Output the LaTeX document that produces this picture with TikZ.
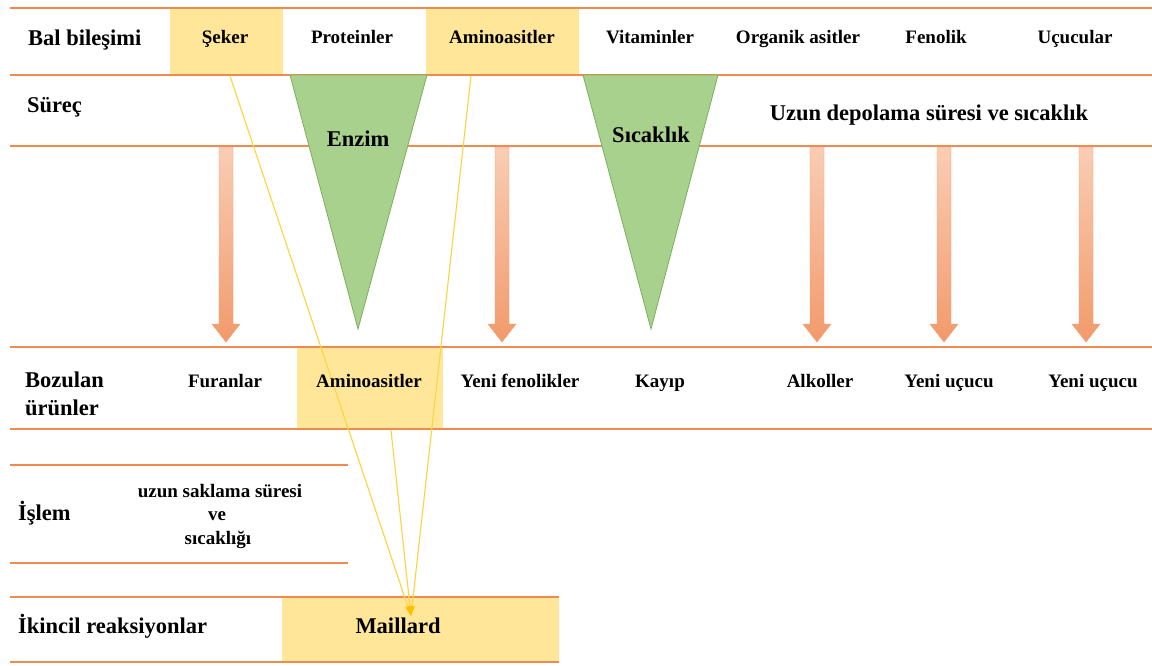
\documentclass[tikz,border=0pt]{standalone}
\usepackage{fontspec}
\setmainfont{Liberation Serif}
\usetikzlibrary{arrows.meta}
\definecolor{lineor}{HTML}{F08B50}
\definecolor{ylw}{HTML}{FFE699}
\definecolor{grn}{HTML}{A9D18E}
\definecolor{grnd}{HTML}{7DAF5A}
\definecolor{ylwline}{HTML}{FFD33D}
\definecolor{ytip}{HTML}{FFC000}
\definecolor{arrtop}{HTML}{F9CDB4}
\definecolor{arrbot}{HTML}{F29A6B}
\begin{document}
\begin{tikzpicture}[x=1pt,y=-1pt,
  hline/.style={draw=lineor,line width=2.8pt},
  ybox/.style={fill=ylw,draw=none,inner sep=0pt},
  head/.style={font=\fontsize{22.5}{26}\selectfont\bfseries,inner sep=0pt,anchor=base west},
  item/.style={font=\fontsize{19}{22}\selectfont\bfseries,inner sep=0pt,anchor=base},
  big/.style={font=\fontsize{22.5}{26}\selectfont\bfseries,inner sep=0pt,anchor=base},
  tri/.style={fill=grn,draw=grnd,line width=0.8pt},
  darr/.style={top color=arrtop,bottom color=arrbot,draw=arrbot,line width=0.4pt},
  yline/.style={draw=ylwline,line width=1.1pt,-{Triangle[length=10pt,width=5pt,color=ytip]}}]
\useasboundingbox (0,0) rectangle (1152,665);
\fill[white] (0,0) rectangle (1152,665);

% yellow boxes
\node[ybox,minimum width=113pt,minimum height=67pt] (sekerbox) at (226.5,41.5) {};
\node[ybox,minimum width=153pt,minimum height=67pt] (aminobox) at (502.5,41.5) {};
\node[ybox,minimum width=146pt,minimum height=82pt] (amino2box) at (370,388) {};
\node[ybox,minimum width=277pt,minimum height=65pt] (maillardbox) at (420.5,629.5) {};

% orange rules
\draw[hline] (10,8) -- (1152,8);
\draw[hline] (10,75) -- (1152,75);
\draw[hline] (10,146) -- (1152,146);
\draw[hline] (10,347) -- (1152,347);
\draw[hline] (10,429) -- (1152,429);
\draw[hline] (10,465) -- (348,465);
\draw[hline] (10,563) -- (348,563);
\draw[hline] (10,597) -- (559,597);
\draw[hline] (10,662) -- (559,662);

% green triangles
\draw[tri] (290,75) -- (427,75) -- (358,329) -- cycle;
\draw[tri] (583,75) -- (718,75) -- (651,329) -- cycle;

% down arrows
\foreach \x in {226,502,817,944,1086}{
  \draw[darr] (\x-7,147) -- (\x+7,147) -- (\x+7,324) -- (\x+14,324) -- (\x,342) -- (\x-14,324) -- (\x-7,324) -- cycle;
}

% yellow connectors
\coordinate (s1) at (230,76);
\coordinate (a1) at (471,76);
\coordinate (a2) at (391,430);
\coordinate (m) at (411,616);
\draw[yline] (s1) -- (m);
\draw[yline] (a1) -- (m);
\draw[yline] (a2) -- (m);

% texts
\node[head] (t1) at (28,45) {Bal bileşimi};
\node[item] (t2) at (225,43) {Şeker};
\node[item] (t3) at (352,43) {Proteinler};
\node[item] (t4) at (502,43) {Aminoasitler};
\node[item] (t5) at (650,43) {Vitaminler};
\node[item] (t6) at (798,43) {Organik asitler};
\node[item] (t7) at (936,43) {Fenolik};
\node[item] (t8) at (1075,43) {Uçucular};

\node[head] (t9) at (27,112) {Süreç};
\node[big] (t10) at (358,146) {Enzim};
\node[big] (t11) at (651,142) {Sıcaklık};
\node[big] (t12) at (929,120) {Uzun depolama süresi ve sıcaklık};

\node[head] (t13) at (25,387) {Bozulan};
\node[head] (t14) at (25,415) {ürünler};
\node[item] (t15) at (225,387) {Furanlar};
\node[item] (t16) at (369,387) {Aminoasitler};
\node[item] (t17) at (520,387) {Yeni fenolikler};
\node[item] (t18) at (660,387) {Kayıp};
\node[item] (t19) at (820,387) {Alkoller};
\node[item] (t20) at (949,387) {Yeni uçucu};
\node[item] (t21) at (1093,387) {Yeni uçucu};

\node[head] (t22) at (18,520) {İşlem};
\node[item] (t23) at (220,497) {uzun saklama süresi};
\node[item] (t24) at (217,520) {ve};
\node[item] (t25) at (218,544) {sıcaklığı};

\node[head] (t26) at (18,633) {İkincil reaksiyonlar};
\node[big] (t27) at (398,633) {Maillard};
\end{tikzpicture}
\end{document}
